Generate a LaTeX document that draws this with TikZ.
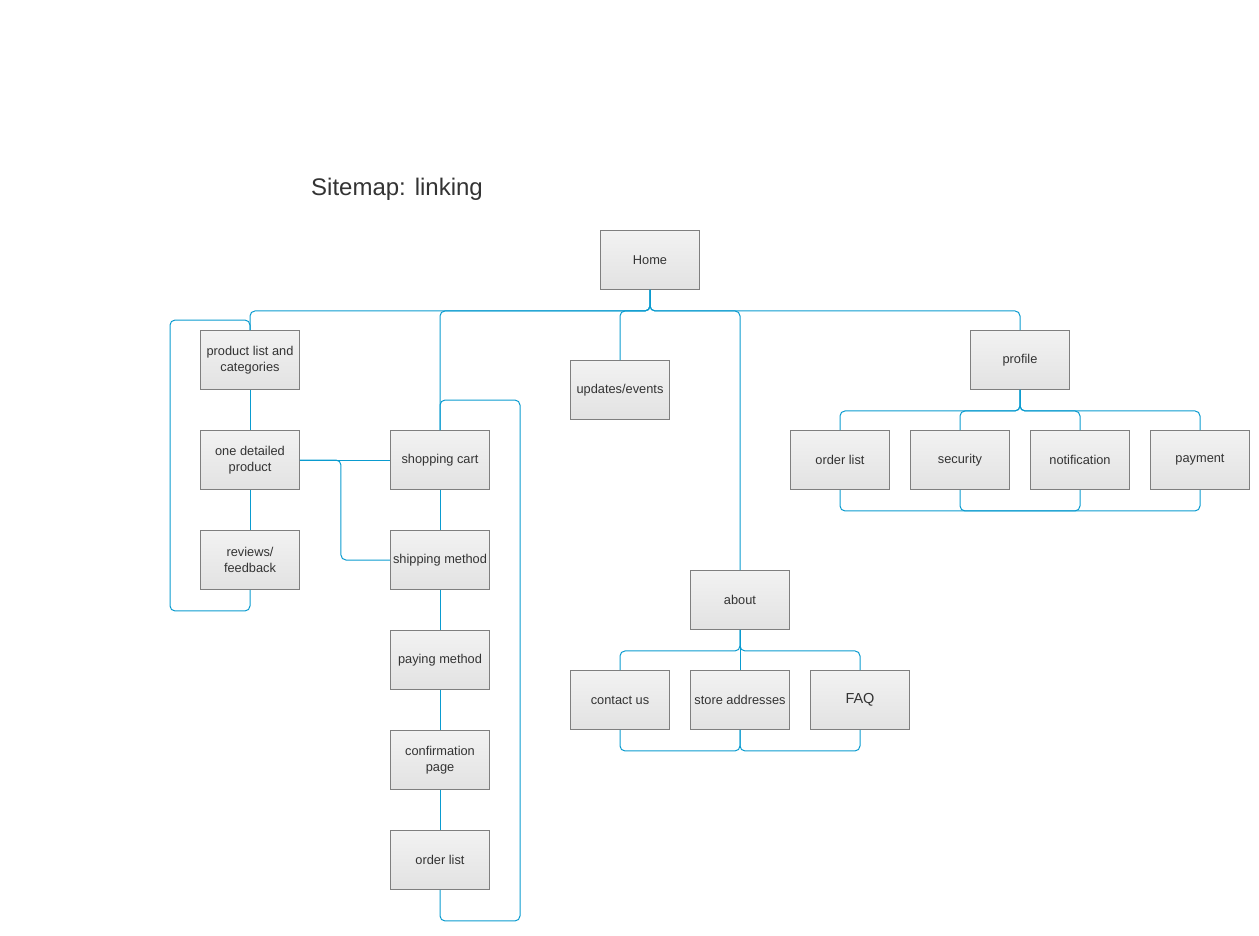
\documentclass[tikz,border=0pt]{standalone}
\usepackage{fontspec}
\setmainfont{Liberation Sans}
\usetikzlibrary{positioning}
\definecolor{linkblue}{HTML}{0A9BCF}
\definecolor{boxedge}{HTML}{7F7F7F}
\definecolor{boxtop}{HTML}{F2F2F2}
\definecolor{boxbot}{HTML}{E2E2E2}
\definecolor{txtgray}{HTML}{333333}

\tikzset{
  page/.style={draw=boxedge, line width=0.9pt, top color=boxtop, bottom color=boxbot,
    minimum width=99pt, minimum height=59pt, align=center, inner sep=1pt,
    font=\fontsize{12.8}{16}\selectfont, text=txtgray},
  link/.style={draw=linkblue, line width=1pt, rounded corners=5pt},
}

\begin{document}
\begin{tikzpicture}[x=1pt,y=-1pt,node distance=100pt,on grid]
   \useasboundingbox (0,0) rectangle (1259,935);

   \node[font=\fontsize{24}{28}\selectfont, text=txtgray, anchor=base west, inner sep=0pt]
      (title) at (311,195) {Sitemap: linking};

   \node[page] (home) at (650,260) {Home};

   % products column
   \node[page] (prod) at (250,360) {product list and\\categories};
   \node[page] (detail) [below=of prod] {one detailed\\product};
   \node[page] (reviews) [below=of detail] {reviews/\\feedback};

   % checkout column
   \node[page] (cart) [right=190pt of detail] {shopping cart};
   \node[page] (ship) [below=of cart] {shipping method};
   \node[page] (pay) [below=of ship] {paying method};
   \node[page] (confirm) [below=of pay] {confirmation\\page};
   \node[page] (orders) [below=of confirm] {order list};

   \node[page] (updates) at (620,390) {updates/events};

   % about
   \node[page] (about) at (740,600) {about};
   \node[page] (contact) [below left=100pt and 120pt of about] {contact us};
   \node[page] (store) [below=of about] {store addresses};
   \node[page, font=\fontsize{14.5}{16}\selectfont] (faq) [below right=100pt and 120pt of about] {FAQ};

   % profile
   \node[page] (profile) at (1020,360) {profile};
   \node[page] (ordlist) [below left=100pt and 180pt of profile] {order list};
   \node[page] (security) [right=120pt of ordlist] {security};
   \node[page] (notif) [right=120pt of security] {notification};
   \node[page] (payment) [right=120pt of notif] {payment};

   % from home
   \draw[link] (home.south) -- ++(0,-21pt) -| (prod.north);
   \draw[link] (home.south) -- ++(0,-21pt) -| (cart.north);
   \draw[link] (home.south) -- ++(0,-21pt) -| (updates.north);
   \draw[link] (home.south) -- ++(0,-21pt) -| (about.north);
   \draw[link] (home.south) -- ++(0,-21pt) -| (profile.north);

   % products
   \draw[link] (prod) -- (detail);
   \draw[link] (detail) -- (reviews);
   \draw[link] (reviews.south) -- ++(0,-21pt) -- ++(-80pt,0) |- ([yshift=10pt]prod.north) -- (prod.north);
   \draw[link] (detail) -- (cart);
   \draw[link] (detail.east) -- ++(41pt,0) |- (ship.west);

   % checkout
   \draw[link] (cart) -- (ship);
   \draw[link] (ship) -- (pay);
   \draw[link] (pay) -- (confirm);
   \draw[link] (confirm) -- (orders);
   \draw[link] (orders.south) -- ++(0,-31pt) -- ++(80pt,0) |- ([yshift=30pt]cart.north) -- (cart.north);

   % about
   \draw[link] (about.south) -- ++(0,-21pt) -| (contact.north);
   \draw[link] (about.south) -- (store.north);
   \draw[link] (about.south) -- ++(0,-21pt) -| (faq.north);
   \draw[link] (contact.south) -- ++(0,-21pt) -| (store.south);
   \draw[link] (store.south) -- ++(0,-21pt) -| (faq.south);

   % profile
   \draw[link] (profile.south) -- ++(0,-21pt) -| (ordlist.north);
   \draw[link] (profile.south) -- ++(0,-21pt) -| (security.north);
   \draw[link] (profile.south) -- ++(0,-21pt) -| (notif.north);
   \draw[link] (profile.south) -- ++(0,-21pt) -| (payment.north);
   \draw[link] (ordlist.south) -- ++(0,-21pt) -| (notif.south);
   \draw[link] (security.south) -- ++(0,-21pt) -| (payment.south);
\end{tikzpicture}
\end{document}
